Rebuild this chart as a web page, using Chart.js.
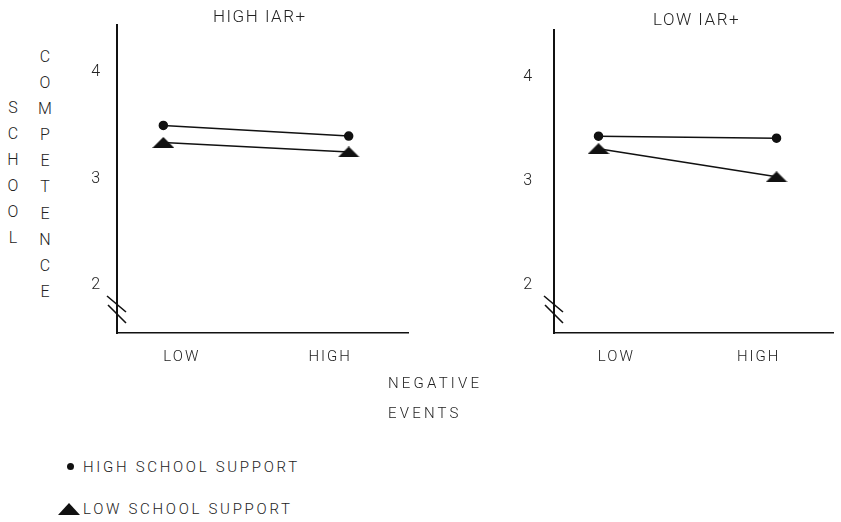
<!DOCTYPE html>
<html>
<head>
<meta charset="utf-8">
<script src="https://cdn.jsdelivr.net/npm/chart.js@4.4.1/dist/chart.umd.min.js"></script>
<style>
  html, body { margin: 0; padding: 0; background: #fff; }
  body { width: 841px; height: 522px; position: relative; overflow: hidden;
         font-family: Roboto, "DejaVu Sans", sans-serif; font-weight: 300; color: #222; }
  .txt { position: absolute; font-size: 15px; letter-spacing: 2.7px; white-space: nowrap; line-height: 1; }
  .ax { letter-spacing: 3.2px; }
  .ttl { font-size: 17px; letter-spacing: 1.5px; }
  .col { position: absolute; font-size: 16px; width: 20px; text-align: center; line-height: 26.1px; }
  .box { position: absolute; top: 0; height: 380px; }
  .dot { position: absolute; width: 7px; height: 7px; border-radius: 50%; background: #111; }
  .tri { position: absolute; width: 0; height: 0; border-left: 11px solid transparent;
         border-right: 11px solid transparent; border-bottom: 12px solid #111; }
</style>
</head>
<body>
<div class="box" style="left:60px;width:360px"><canvas id="leftChart"></canvas></div>
<div class="box" style="left:470px;width:371px"><canvas id="rightChart"></canvas></div>

<div class="col" style="left:3px;top:95px">S<br>C<br>H<br>O<br>O<br>L</div>
<div class="col" style="left:35px;top:44px">C<br>O<br>M<br>P<br>E<br>T<br>E<br>N<br>C<br>E</div>

<div class="txt ttl" style="left:213px;top:8px">HIGH IAR+</div>
<div class="txt ttl" style="left:653px;top:11px">LOW IAR+</div>

<div class="txt ax" style="left:388px;top:376px">NEGATIVE</div>
<div class="txt ax" style="left:388px;top:406px">EVENTS</div>

<div class="dot" style="left:67px;top:463px"></div>
<div class="txt" style="left:83px;top:460px">HIGH SCHOOL SUPPORT</div>
<div class="tri" style="left:58px;top:503px"></div>
<div class="txt" style="left:83px;top:502px">LOW SCHOOL SUPPORT</div>

<script>
// negative events categories
var categories = ["LOW", "HIGH"];
var yTicks = [2, 3, 4];

// HIGH IAR+ panel
var highIarHighSupport = [3.50, 3.40];
var highIarLowSupport = [3.34, 3.25];

// LOW IAR+ panel
var lowIarHighSupport = [3.43, 3.41];
var lowIarLowSupport = [3.31, 3.04];

Chart.defaults.font.family = "Roboto, 'DejaVu Sans', sans-serif";
Chart.defaults.font.weight = "300";
Chart.defaults.color = "#222";

// flat black triangle used as point marker
function makeTriangle(w, h) {
  var c = document.createElement("canvas");
  c.width = w;
  c.height = h;
  var g = c.getContext("2d");
  g.fillStyle = "#111";
  g.beginPath();
  g.moveTo(w / 2, 0);
  g.lineTo(w, h);
  g.lineTo(0, h);
  g.closePath();
  g.fill();
  return c;
}
var triangle = makeTriangle(22, 11);

function toPoints(values) {
  return values.map(function (v, i) { return { x: i, y: v }; });
}

// spaced letters + the "//" break on the y axis
var breakMarks = {
  id: "breakMarks",
  beforeDraw: function (chart) {
    chart.ctx.letterSpacing = "2px";
  },
  afterDraw: function (chart) {
    var ctx = chart.ctx;
    var x = chart.chartArea.left;
    var b = chart.chartArea.bottom;
    ctx.save();
    ctx.strokeStyle = "#111";
    ctx.lineWidth = 1.6;
    ctx.beginPath();
    ctx.moveTo(x - 10, b - 37);
    ctx.lineTo(x + 9, b - 21);
    ctx.moveTo(x - 9, b - 28);
    ctx.lineTo(x + 9, b - 10);
    ctx.stroke();
    ctx.restore();
  }
};

function makePanel(id, highVals, lowVals, yWidth, yPad, rightPad) {
  var ctx = document.getElementById(id).getContext("2d");
  return new Chart(ctx, {
    type: "line",
    data: {
      datasets: [
        {
          label: "HIGH SCHOOL SUPPORT",
          data: toPoints(highVals),
          borderColor: "#111",
          backgroundColor: "#111",
          borderWidth: 1.5,
          pointStyle: "circle",
          pointRadius: 4,
          tension: 0,
        },
        {
          label: "LOW SCHOOL SUPPORT",
          data: toPoints(lowVals),
          borderColor: "#111",
          backgroundColor: "#111",
          borderWidth: 1.5,
          pointStyle: triangle,
          pointRadius: 6,
          tension: 0,
        },
      ],
    },
    options: {
      responsive: true,
      maintainAspectRatio: false,
      animation: false,
      events: [],
      layout: { padding: { top: 8, right: rightPad, bottom: 0, left: 0 } },
      plugins: { legend: { display: false }, tooltip: { enabled: false } },
      scales: {
        x: {
          type: "linear",
          min: -0.25,
          max: 1.32,
          grid: { display: false, drawTicks: false },
          border: { display: true, color: "#111", width: 1.5 },
          afterBuildTicks: function (scale) {
            scale.ticks = [{ value: 0.1 }, { value: 0.9 }];
          },
          afterFit: function (scale) { scale.height = 47; },
          ticks: {
            padding: 15,
            maxRotation: 0,
            font: { size: 15 },
            callback: function (v, i) { return categories[i]; },
          },
        },
        y: {
          min: 1.545,
          max: 4.45,
          grid: { display: false, drawTicks: false },
          border: { display: true, color: "#111", width: 2 },
          afterBuildTicks: function (scale) {
            scale.ticks = yTicks.map(function (t) { return { value: t }; });
          },
          afterFit: function (scale) { scale.width = yWidth; },
          ticks: { padding: yPad, font: { size: 16 } },
        },
      },
    },
    plugins: [breakMarks],
  });
}

makePanel("leftChart", highIarHighSupport, highIarLowSupport, 57, 15, 12);
makePanel("rightChart", lowIarHighSupport, lowIarLowSupport, 84, 20, 0);
</script>
</body>
</html>
